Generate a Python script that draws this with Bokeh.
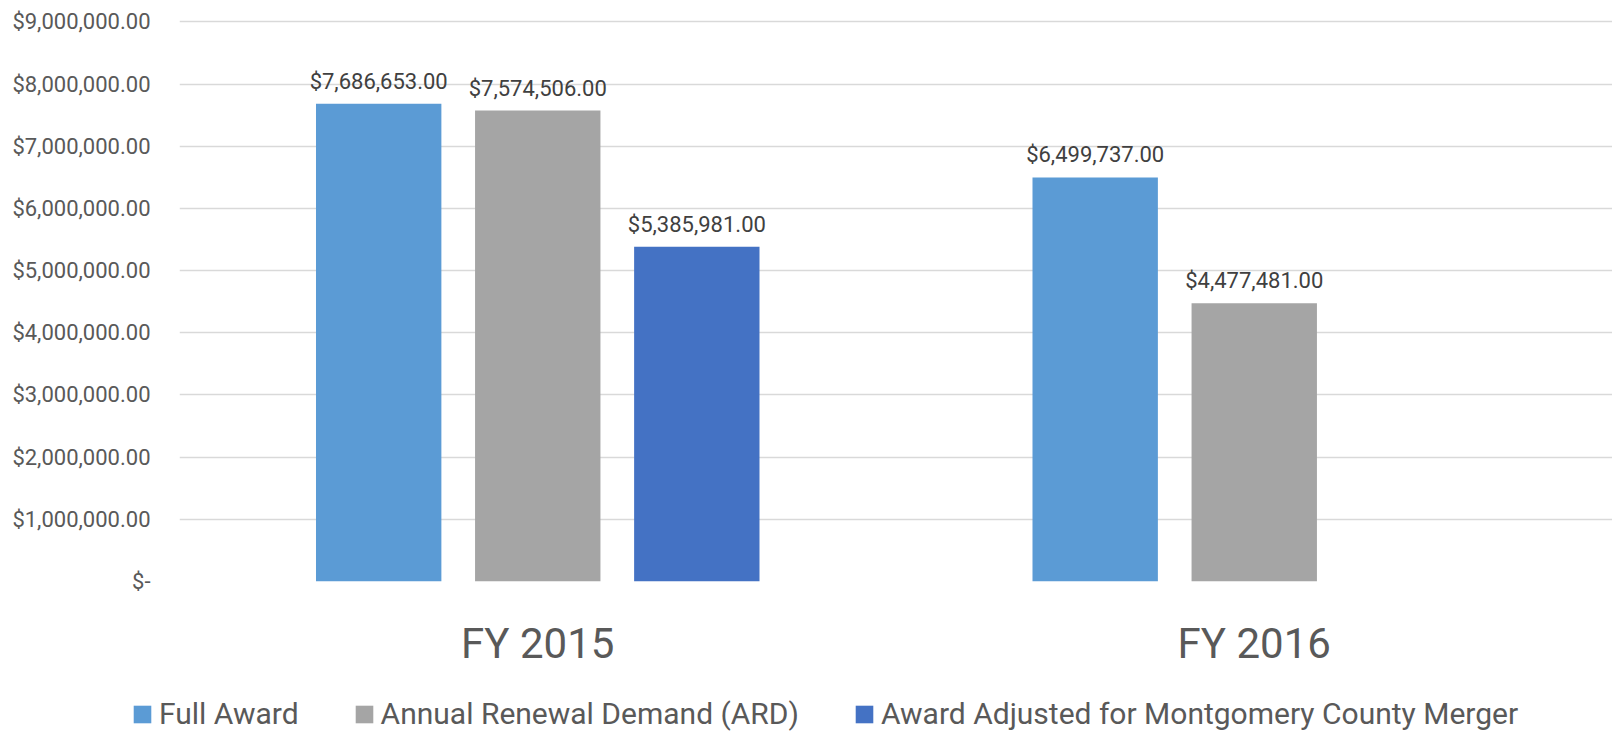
from bokeh.plotting import figure
from bokeh.layouts import column
from bokeh.models import (FactorRange, Range1d, NumeralTickFormatter, Legend, LegendItem,
                          ColumnDataSource, SingleIntervalTicker)
from bokeh.transform import dodge
from bokeh.core.properties import value
from bokeh.embed import file_html
from bokeh.resources import INLINE

categories = ["FY 2015", "FY 2016"]
full_award = [7686653, 6499737]
ard = [7574506, 4477481]
adjusted = [5385981, None]

series_names = ["Full Award", "Annual Renewal Demand (ARD)",
                "Award Adjusted for Montgomery County Merger"]
series_values = [full_award, ard, adjusted]
series_colors = ["#5B9BD5", "#A5A5A5", "#4472C4"]
offsets = [-0.222, 0.0, 0.222]

FONT = "Roboto"
W = 1612
MAIN_H = 685
LEG_H = 46

p = figure(x_range=FactorRange(*categories), y_range=Range1d(0, 9040000),
           width=W, height=MAIN_H, output_backend="svg", toolbar_location=None,
           min_border_left=179, min_border_right=0, min_border_top=19,
           min_border_bottom=104)

p.outline_line_color = None
p.xgrid.visible = False
p.ygrid.grid_line_color = "#D9D9D9"
p.ygrid.grid_line_width = 1.3

p.yaxis.ticker = SingleIntervalTicker(interval=1000000, num_minor_ticks=0)
p.yaxis.formatter = NumeralTickFormatter(format="$0,0.00")
p.yaxis.major_label_overrides = {0: "$-"}
for ax in (p.xaxis[0], p.yaxis[0]):
    ax.axis_line_color = None
    ax.major_tick_line_color = None
    ax.minor_tick_line_color = None
    ax.major_label_text_font = FONT
    ax.major_label_text_color = "#595959"
p.yaxis.major_label_text_font_size = "22px"
p.yaxis.major_label_standoff = 23
p.xaxis.major_label_text_font_size = "42px"
p.xaxis.major_label_standoff = 31

# legend strip below the chart (its own frame, not aligned to the chart frame)
lg = figure(x_range=Range1d(0, 1), y_range=Range1d(0, 1), width=W, height=LEG_H,
            output_backend="svg", toolbar_location=None,
            min_border_left=0, min_border_right=0, min_border_top=0, min_border_bottom=0)
lg.frame_align = False
lg.axis.visible = False
lg.grid.visible = False
lg.outline_line_color = None

items = []
for name, vals, color, off in zip(series_names, series_values, series_colors, offsets):
    cats = [c for c, v in zip(categories, vals) if v is not None]
    tops = [v for v in vals if v is not None]
    labels = [f"${v:,.2f}" for v in tops]
    src = ColumnDataSource(dict(cat=cats, top=tops, label=labels))
    p.vbar(x=dodge("cat", off, range=p.x_range), top="top", width=0.175,
           source=src, fill_color=color, line_color=None)
    p.text(x=dodge("cat", off, range=p.x_range), y="top", text="label", source=src,
           text_align="center", text_baseline="bottom", y_offset=-10,
           text_font=value(FONT), text_font_size="22px", text_color="#404040")
    # swatch renderer for the legend strip: one bar placed outside the strip's visible range
    r = lg.vbar(x=[-5], top=[-5], width=0.1, fill_color=color, line_color=None)
    items.append(LegendItem(label=name, renderers=[r]))

legend = Legend(items=items, orientation="horizontal", location=(131, 0),
                border_line_color=None, background_fill_alpha=0,
                label_text_font=FONT, label_text_font_size="30px",
                label_text_color="#595959", glyph_width=22, glyph_height=22,
                spacing=54, label_standoff=6, padding=0, margin=0)
lg.add_layout(legend, "center")

layout = column(p, lg, spacing=0)
open("out.html", "w").write(file_html(layout, INLINE))
